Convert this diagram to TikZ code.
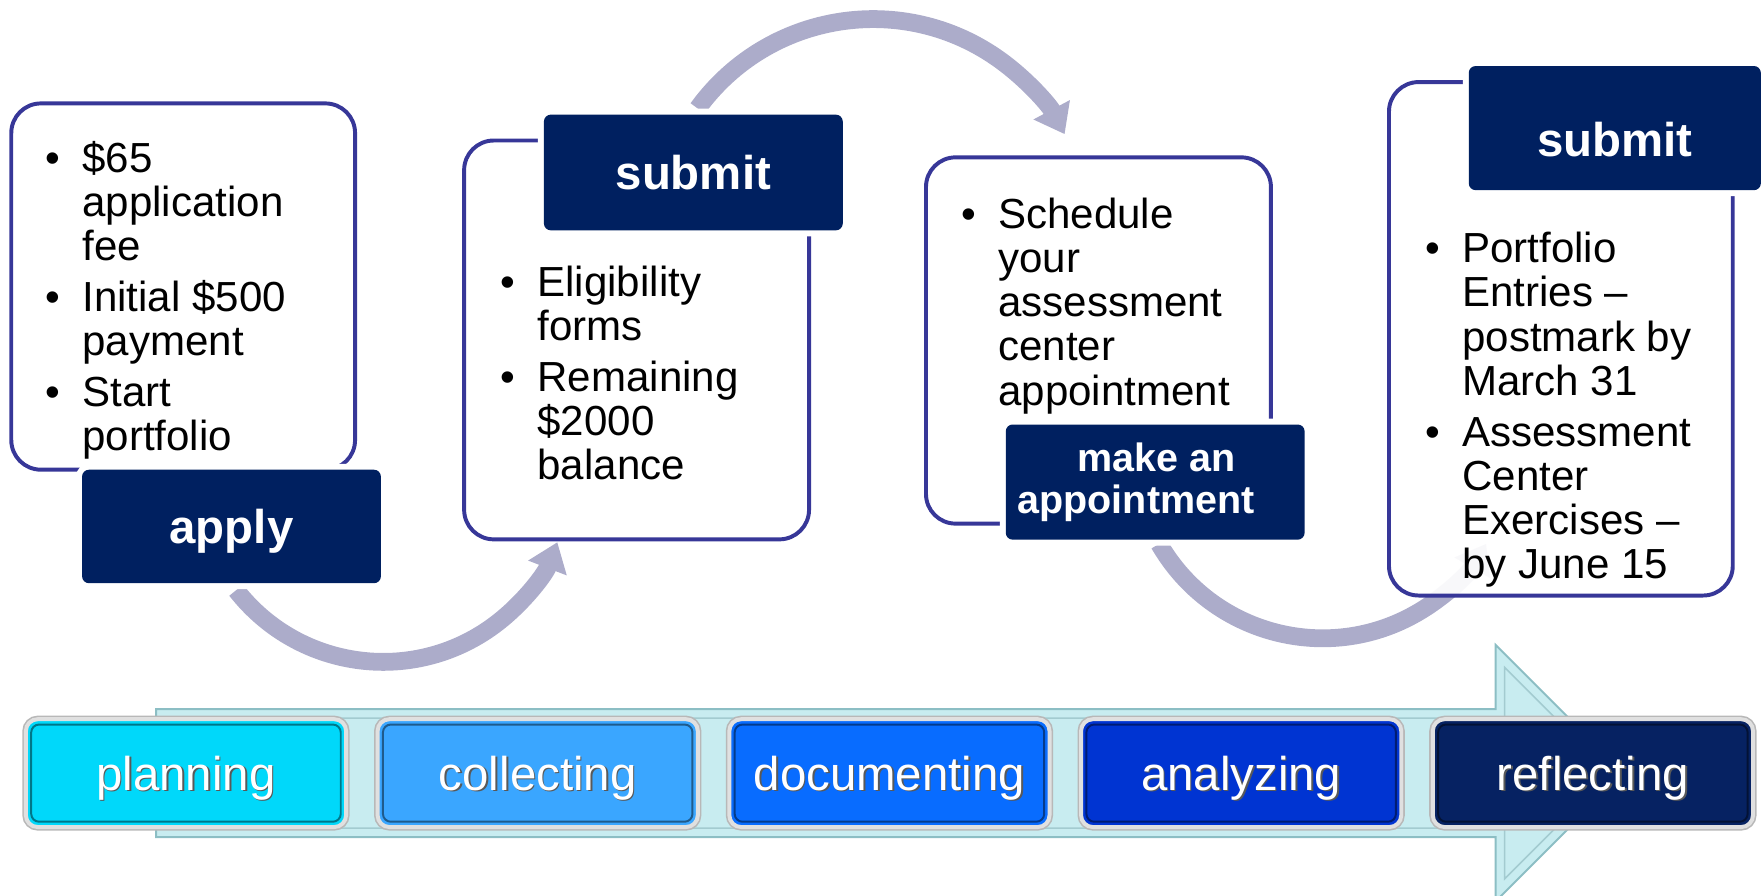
\documentclass[tikz,border=0pt]{standalone}
\usepackage{fontspec}
\setmainfont{Liberation Sans}
\usetikzlibrary{arrows.meta}
\definecolor{navy}{RGB}{0,32,96}
\definecolor{boxline}{RGB}{55,55,152}
\definecolor{arcc}{RGB}{172,172,202}
\definecolor{arrowfill}{RGB}{200,236,240}
\definecolor{arrowline}{RGB}{140,190,196}
\definecolor{cplan}{RGB}{0,216,250}
\definecolor{ccoll}{RGB}{58,166,255}
\definecolor{cdoc}{RGB}{8,108,255}
\definecolor{cana}{RGB}{0,52,210}
\definecolor{cref}{RGB}{6,34,98}
\newcommand{\bul}{\llap{\textbullet\hspace{11.3pt}}}
\begin{document}
\begin{tikzpicture}[x=0.02cm,y=-0.02cm,
  cbox/.style={draw=boxline, line width=2pt, fill=white, fill opacity=0.92, rounded corners=15pt, inner sep=0pt},
  btext/.style={anchor=base west, align=left, inner sep=0pt, font=\fontsize{21.3}{22.4}\selectfont},
  tagbase/.style={fill=navy, text=white, rounded corners=3.5pt, inner sep=0pt, preaction={draw=white, line width=6pt}},
  tag/.style={tagbase, font=\bfseries\fontsize{24}{26}\selectfont, text height=17.3pt, text depth=0pt},
  turn/.style={draw=arcc, line width=9pt, -{Triangle[width=20pt,length=14pt]}},
  stepbox/.style={minimum width=5.7cm, minimum height=1.92cm, rounded corners=6pt, inner sep=0pt,
    fill=#1, draw=white!88!black, line width=2pt, preaction={draw=black!28, line width=3.6pt}},
  steptext/.style={font=\fontsize{24}{26}\selectfont, text height=17.3pt, text depth=0pt}
]
\useasboundingbox (0,0) rectangle (1568,797);

% ---- curved arrows (behind the boxes)
\coordinate (o1) at (341,423);
\coordinate (o2) at (777,210);
\coordinate (o3) at (1177,400);
\draw[turn] (o1) ++(142:166) arc[start angle=142, end angle=21, radius=166];
\draw[turn] (o2) ++(-144:193) arc[start angle=-144, end angle=-28, radius=193];
\draw[turn] (o3) ++(150:168) arc[start angle=150, end angle=30, radius=168];

% ---- content boxes
\node[cbox, minimum width=6.12cm, minimum height=6.52cm] (b1) at (163,255) {};
\node[cbox, minimum width=6.14cm, minimum height=7.1cm] (b2) at (566.5,302.5) {};
\node[cbox, minimum width=6.14cm, minimum height=6.52cm] (b3) at (977.5,303) {};
\node[cbox, minimum width=6.12cm, minimum height=9.14cm] (b4) at (1389,301.5) {};

% anchor base west = baseline of the last line
\node[btext] (t1) at (73,401) {\bul\$65\\application\\fee\\[3.3pt]\bul Initial \$500\\payment\\[3.3pt]\bul Start\\portfolio};
\node[btext] (t2) at (478,427) {\bul Eligibility\\forms\\[3.3pt]\bul Remaining\\\$2000\\balance};
\node[btext] (t3) at (888,360.5) {\bul Schedule\\your\\assessment\\center\\appointment};
\node[btext] (t4) at (1301,515) {\bul Portfolio\\Entries –\\postmark by\\March 31\\[3.3pt]\bul Assessment\\Center\\Exercises –\\by June 15};

% ---- tags
\node[tag, minimum width=5.32cm, minimum height=2.02cm] (l1) at (206,468.5) {apply};
\node[tag, minimum width=5.32cm, minimum height=2.06cm] (l2) at (617,153.5) {submit};
\node[tagbase, align=left, font=\bfseries\fontsize{20}{21}\selectfont, minimum width=5.32cm, minimum height=2.05cm] (l3) at (1028,429) {\hspace*{1.06cm}make an\\appointment\hspace*{0.68cm}};
\node[tag, minimum width=5.2cm, minimum height=2.21cm] (l4) at (1437,114) {\raisebox{-0.2cm}{submit}};

% ---- big process arrow
\path[fill=arrowfill, draw=arrowline, line width=1pt]
  (139,631) -- (1331,631) -- (1331,574) -- (1445,688) -- (1331,802) -- (1331,745) -- (139,745) -- cycle;
\draw[arrowline!80!white, line width=0.8pt]
  (147,639) -- (1339,639) -- (1339,594) -- (1433,688) -- (1339,782) -- (1339,737) -- (147,737) -- cycle;

% ---- steps
\foreach \i/\x/\c/\t in {1/165.5/cplan/planning, 2/478.5/ccoll/collecting, 3/791.5/cdoc/documenting, 4/1104.5/cana/analyzing, 5/1417.5/cref/reflecting}{
  \node[stepbox=\c] (s\i) at (\x,688) {};
  \draw[black, opacity=0.45, line width=1pt, rounded corners=4pt]
    ([shift={(0.13cm,-0.13cm)}]s\i.north west) rectangle ([shift={(-0.13cm,0.13cm)}]s\i.south east);
  \node[steptext, text=black!65] at ([shift={(0.8pt,-0.8pt)}]s\i.center) {\t};
  \node[steptext, text=white] at (s\i.center) {\t};
}
\end{tikzpicture}
\end{document}
